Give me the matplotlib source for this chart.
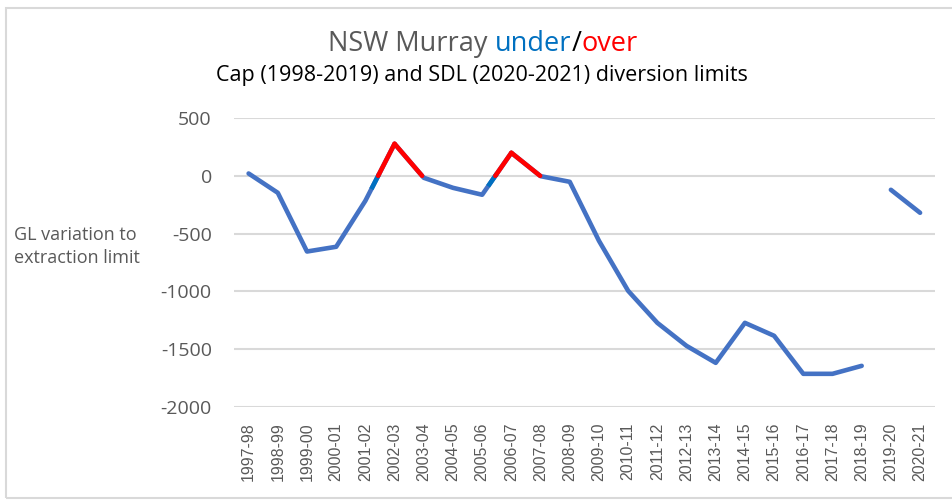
import numpy as np
import matplotlib
matplotlib.use('Agg')
import matplotlib.pyplot as plt
from matplotlib.patches import Rectangle

seasons = ['1997-98', '1998-99', '1999-00', '2000-01', '2001-02', '2002-03', '2003-04',
           '2004-05', '2005-06', '2006-07', '2007-08', '2008-09', '2009-10', '2010-11',
           '2011-12', '2012-13', '2013-14', '2014-15', '2015-16', '2016-17', '2017-18',
           '2018-19', '2019-20', '2020-21']
# Cap period (1997-98 .. 2018-19)
cap_values = [20, -147, -655, -614, -216, 277, -17, -104, -164, 199, -3, -52,
              -562, -995, -1272, -1471, -1618, -1272, -1384, -1713, -1713, -1644]
# SDL period (2019-20 .. 2020-21)
sdl_values = [-121, -320]
over_years = ['2002-03', '2006-07']
yticks = [500, 0, -500, -1000, -1500, -2000]

BLUE = '#4472C4'
DARKBLUE = '#0070C0'
RED = '#FF0000'
GREY = '#595959'
LW = 3.3

fig = plt.figure(figsize=(9.52, 5.0), dpi=100)
fig.patches.append(Rectangle((0.006, 0.004), 1.2, 0.98, transform=fig.transFigure,
                             fill=False, edgecolor='#D9D9D9', lw=1.5))

ax = fig.add_axes([0.2458, 0.186, 0.736, 0.578])
x_cap = np.arange(len(cap_values))
x_sdl = np.arange(len(cap_values), len(seasons))
ax.plot(x_cap, cap_values, color=BLUE, lw=LW, solid_capstyle='round', zorder=3)
ax.plot(x_sdl, sdl_values, color=BLUE, lw=LW, solid_capstyle='round', zorder=3)

# red where the line goes over the limit, darker blue just before crossing
for yr in over_years:
    k = seasons.index(yr)
    yp = cap_values[k]
    # rising side
    ya = cap_values[k - 1]
    xc = x_cap[k - 1] + (-ya) / (yp - ya)
    xs = xc - 0.45 * (xc - x_cap[k - 1])
    ys = ya + (yp - ya) * (xs - x_cap[k - 1])
    ax.plot([xs, xc], [ys, 0], color=DARKBLUE, lw=LW, zorder=4)
    ax.plot([xc, x_cap[k]], [0, yp], color=RED, lw=LW, solid_capstyle='round', zorder=4)
    # falling side
    yb = cap_values[k + 1]
    xc2 = x_cap[k] + yp / (yp - yb)
    ax.plot([x_cap[k], xc2], [yp, 0], color=RED, lw=LW, solid_capstyle='round', zorder=4)

ax.set_xlim(-0.5, len(seasons) - 0.5)
ax.set_ylim(-2000, 500)
ax.set_yticks(yticks)
ax.set_yticklabels([str(v) for v in yticks], fontsize=14, color=GREY, family='Open Sans')
ax.set_xticks(np.arange(len(seasons)))
ax.set_xticklabels(seasons, rotation=90, fontsize=11.5, color=GREY, family='Liberation Sans')
ax.tick_params(length=0, pad=11, axis='x')
ax.tick_params(length=0, pad=16, axis='y')
ax.grid(axis='y', color='#D9D9D9', lw=1.5)
ax.set_axisbelow(True)
for s in ax.spines.values():
    s.set_visible(False)

fig.text(0.015, 0.507, 'GL variation to\nextraction limit', fontsize=13, color=GREY,
         family='Open Sans', va='center', ha='left', linespacing=1.3)

# title with coloured words
parts = [('NSW Murray ', GREY), ('under', DARKBLUE), ('/', 'black'), ('over', RED)]
fig.canvas.draw()
r = fig.canvas.get_renderer()
widths = []
tmp = []
for s, c in parts:
    t = fig.text(0, 0, s, fontsize=19.5, family='Open Sans', color=c)
    widths.append(t.get_window_extent(r).width)
    tmp.append(t)
x = (483 - sum(widths) / 2) / 952
for t, w in zip(tmp, widths):
    t.set_position((x, 0.912))
    t.set_va('center')
    x += w / 952

fig.text(0.506, 0.85, 'Cap (1998-2019) and SDL (2020-2021) diversion limits', fontsize=15.5,
         family='Open Sans', color='black', ha='center', va='center')

fig.savefig('out.png', dpi=100)
